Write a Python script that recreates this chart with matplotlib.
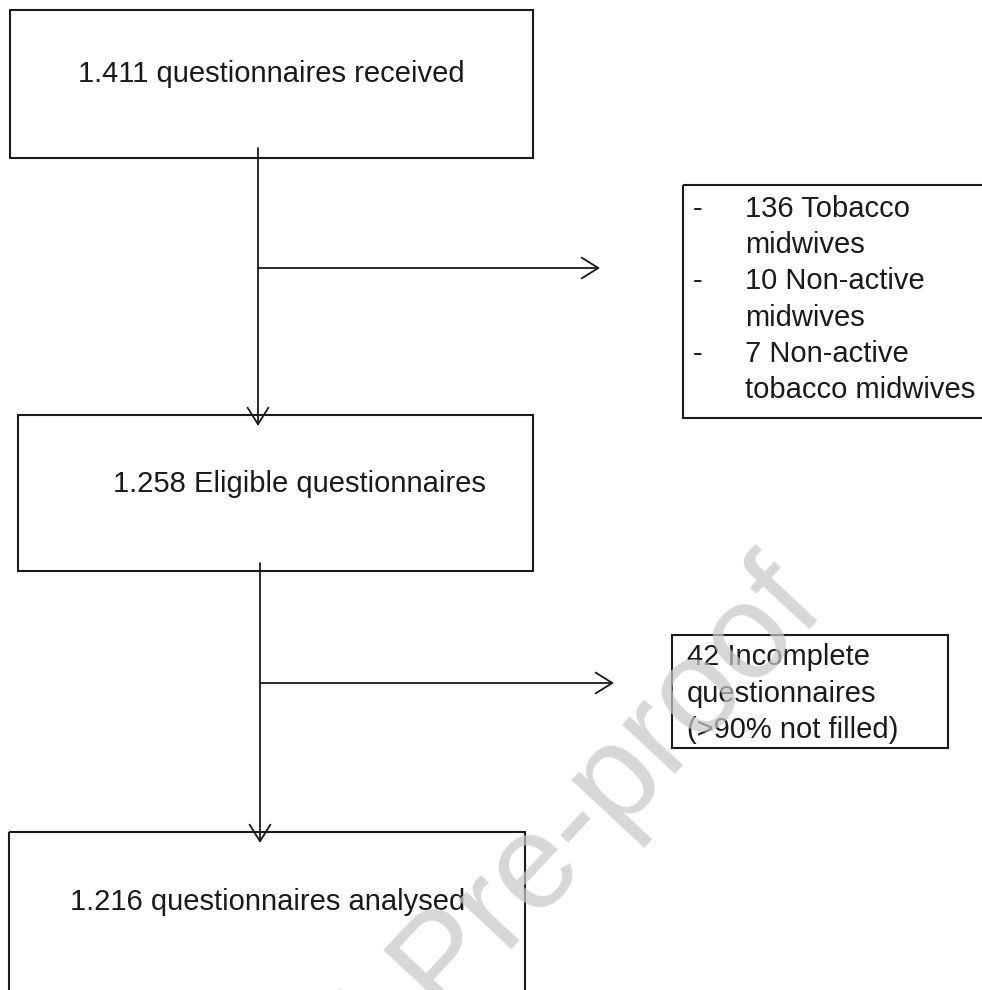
import matplotlib
matplotlib.use("Agg")
import matplotlib.pyplot as plt
from matplotlib.patches import Rectangle, FancyArrowPatch

# ---------------- data ----------------
received = 1411
excluded_counts = [136, 10, 7]
excluded_labels = [["Tobacco", "midwives"],
                   ["Non-active", "midwives"],
                   ["Non-active", "tobacco midwives"]]
incomplete = 42
incomplete_label = ["Incomplete", "questionnaires", "(>90% not filled)"]
eligible = 1258
analysed = 1216
watermark = "Journal Pre-proof"


def fmt(n):
    return f"{n:,}".replace(",", ".")


main_texts = [f"{fmt(received)} questionnaires received",
              f"{fmt(eligible)} Eligible questionnaires",
              f"{fmt(analysed)} questionnaires analysed"]

# ---------------- layout ----------------
W, H = 982, 990
fig = plt.figure(figsize=(W / 100, H / 100), dpi=100)
ax = fig.add_axes([0, 0, 1, 1])
ax.set_xlim(0, W)
ax.set_ylim(H, 0)
ax.axis("off")

FONT = "Liberation Sans"
FS = 21
LC = "#1a1a1a"
BOX_LW = 1.5

# boxes: (x0, y0, x1, y1)
main_boxes = [(10, 10, 533, 158), (18, 415, 533, 571), (9, 832, 525, 1010)]
side_boxes = [(683, 185, 1000, 418), (672, 635, 948, 748)]
for (x0, y0, x1, y1) in main_boxes + side_boxes:
    ax.add_patch(Rectangle((x0, y0), x1 - x0, y1 - y0, fill=False,
                           edgecolor=LC, lw=BOX_LW, zorder=2))

# main box texts (center x, baseline y)
main_text_pos = [(271, 82), (299, 492), (268, 910)]
for (cx, by), t in zip(main_text_pos, main_texts):
    ax.text(cx, by, t, ha="center", va="baseline", fontsize=FS,
            family=FONT, color=LC, zorder=3)

# side box 1 lines
line_h = 36.2
base0 = 217
k = 0
for cnt, parts in zip(excluded_counts, excluded_labels):
    ax.text(693, base0 + k * line_h, "-", ha="left", va="baseline",
            fontsize=FS, family=FONT, color=LC, zorder=3)
    lines = [f"{cnt} {parts[0]}"] + parts[1:]
    for ln in lines:
        ax.text(745, base0 + k * line_h, ln, ha="left", va="baseline",
                fontsize=FS, family=FONT, color=LC, zorder=3)
        k += 1

# side box 2 lines
lines2 = [f"{incomplete} {incomplete_label[0]}"] + incomplete_label[1:]
for i, ln in enumerate(lines2):
    ax.text(687, 665 + i * 36.5, ln, ha="left", va="baseline",
            fontsize=FS, family=FONT, color=LC, zorder=3)

# connectors
ALW = 1.3
style = "->,head_length=12,head_width=7.5"


def arrow(p0, p1):
    ax.add_patch(FancyArrowPatch(p0, p1, arrowstyle=style, mutation_scale=1,
                                 lw=ALW, color=LC, shrinkA=0, shrinkB=0,
                                 zorder=2))


arrow((258, 148), (258, 426))
arrow((258, 268), (600, 268))
arrow((260, 563), (260, 843))
arrow((260, 683), (614, 683))

# watermark
ax.text(828, 610, watermark, ha="right", va="baseline", rotation=47,
        rotation_mode="anchor", fontsize=97, family=FONT,
        color="#c8c8c8", alpha=0.72, zorder=5)

fig.savefig("out.png", dpi=100, facecolor="white")
